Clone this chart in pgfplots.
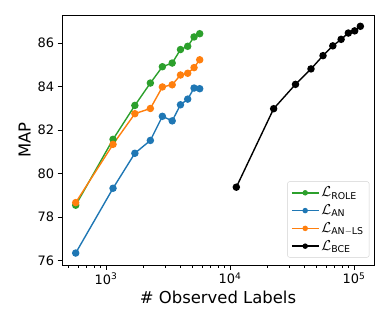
\documentclass[border=0pt]{standalone}
\usepackage{fontspec}
\setmainfont{DejaVu Sans}
\usepackage{amsmath}
\usepackage{pgfplots}
\pgfplotsset{compat=1.18}
\usetikzlibrary{calc}
\definecolor{tabgreen}{HTML}{2CA02C}
\definecolor{tabblue}{HTML}{1F77B4}
\definecolor{taborange}{HTML}{FF7F0E}

\begin{document}
\begin{tikzpicture}
\begin{axis}[
  xmode=log, scale only axis,
  width=312bp, height=250bp,
  xmin=442, xmax=145000, ymin=75.8, ymax=87.3,
  xtick={1000,10000,100000},
  xticklabels={10\textsuperscript{3},10\textsuperscript{4},10\textsuperscript{5}},
  minor xtick={500,600,700,800,900,2000,3000,4000,5000,6000,7000,8000,9000,
               20000,30000,40000,50000,60000,70000,80000,90000},
  ytick={76,78,80,82,84,86},
  tick align=outside, tick pos=left,
  major tick length=4.5bp, minor tick length=2.5bp,
  every tick/.style={black, line width=0.7bp},
  axis line style={line width=0.7bp},
  xlabel={\# Observed Labels}, ylabel={MAP},
  label style={font=\fontsize{16.5}{19}\selectfont},
  tick label style={font=\fontsize{13}{15}\selectfont},
  yticklabel style={/pgf/number format/assume math mode=true},
  legend style={font=\fontsize{13.5}{16}\selectfont, at={(0.985,0.03)}, anchor=south east,
                draw=black!18, rounded corners=2pt, row sep=2.5bp, inner sep=3.5bp},
  legend cell align=left,
  legend image code/.code={\draw[#1, mark=none] (0cm,0cm) -- (0.95cm,0cm);
    \draw[#1, only marks, mark size=2bp] plot coordinates {(0.475cm,0cm)};},
  every axis plot/.append style={line width=1.4bp, mark=*, mark size=3bp},
]
\addplot[tabgreen, mark options={fill=tabgreen}] coordinates {
  (570,78.55) (1140,81.58) (1710,83.14) (2280,84.17) (2850,84.92)
  (3420,85.09) (3990,85.71) (4560,85.86) (5130,86.29) (5700,86.44)};
\addlegendentry{$\mathcal{L}_{\text{ROLE}}$}
\addplot[tabblue, mark options={fill=tabblue}] coordinates {
  (570,76.35) (1140,79.33) (1710,80.94) (2280,81.53) (2850,82.64)
  (3420,82.43) (3990,83.17) (4560,83.43) (5130,83.94) (5700,83.91)};
\addlegendentry{$\mathcal{L}_{\text{AN}}$}
\addplot[taborange, mark options={fill=taborange}] coordinates {
  (570,78.67) (1140,81.35) (1710,82.76) (2280,83.00) (2850,83.99)
  (3420,84.09) (3990,84.54) (4560,84.62) (5130,84.88) (5700,85.24)};
\addlegendentry{$\mathcal{L}_{\text{AN}-\text{LS}}$}
\addplot[black, mark options={fill=black}] coordinates {
  (11250,79.38) (22500,82.99) (33750,84.11) (45000,84.82) (56250,85.43)
  (67500,85.88) (78750,86.18) (90000,86.47) (101250,86.57) (112500,86.78)};
\addlegendentry{$\mathcal{L}_{\text{BCE}}$}
\end{axis}
\pgfresetboundingbox
\useasboundingbox ($(current axis.south west)+(-62bp,-60bp)$) rectangle ($(current axis.north east)+(16bp,15bp)$);
\end{tikzpicture}
\end{document}
